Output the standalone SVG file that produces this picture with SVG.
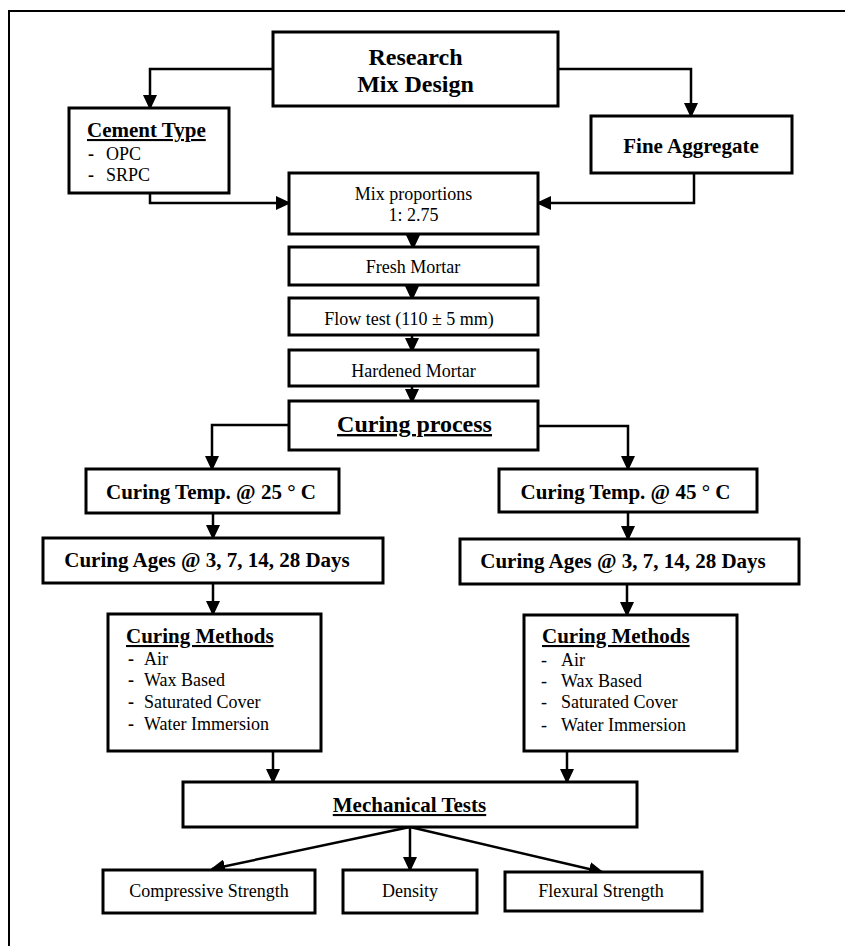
<svg xmlns="http://www.w3.org/2000/svg" width="845" height="946" viewBox="0 0 845 946">
<style>
.box{fill:#fff;stroke:#000;stroke-width:3}
.ln{fill:none;stroke:#000;stroke-width:2.5;marker-end:url(#ah)}
text{font-family:"Liberation Serif","Times New Roman",serif;fill:#000}
.r{font-size:18px}
.b{font-size:21px;font-weight:bold}
.bl{font-size:24px;font-weight:bold}
.u{text-decoration:underline}
.c{text-anchor:middle}
</style>
<defs>
<marker id="ah" markerUnits="userSpaceOnUse" markerWidth="15" markerHeight="15" refX="13" refY="7" orient="auto" viewBox="0 0 15 14">
<path d="M0,0 L15,7 L0,14 z" fill="#000"/>
</marker>
</defs>
<rect width="845" height="946" fill="#fff"/>
<g id="frame" stroke="#000" stroke-width="2" fill="none">
<path d="M9,946 V11 H845"/>
</g>
<g id="connectors">
<polyline class="ln" points="273,69 150,69 150,108"/>
<polyline class="ln" points="558,69 691,69 691,116"/>
<polyline class="ln" points="150,193 150,203 289,203"/>
<polyline class="ln" points="694,173 694,203 538,203"/>
<line class="ln" x1="413" y1="234" x2="413" y2="248"/>
<line class="ln" x1="412" y1="285" x2="412" y2="299"/>
<line class="ln" x1="412" y1="335" x2="412" y2="351"/>
<line class="ln" x1="412" y1="386" x2="412" y2="402"/>
<polyline class="ln" points="289,425 212,425 212,469"/>
<polyline class="ln" points="538,426 628,426 628,469"/>
<line class="ln" x1="213" y1="513" x2="213" y2="538"/>
<line class="ln" x1="628" y1="512" x2="628" y2="539"/>
<line class="ln" x1="213" y1="583" x2="213" y2="614"/>
<line class="ln" x1="627" y1="584" x2="627" y2="615"/>
<line class="ln" x1="273" y1="751" x2="273" y2="782"/>
<line class="ln" x1="567" y1="751" x2="567" y2="782"/>
<line class="ln" x1="410" y1="827" x2="212" y2="869"/>
<line class="ln" x1="410" y1="827" x2="410" y2="870"/>
<line class="ln" x1="410" y1="827" x2="602" y2="872"/>
</g>
<g id="research">
<rect class="box" x="273" y="32" width="285" height="74"/>
<text class="bl c" x="415.5" y="65">Research</text>
<text class="bl c" x="415.5" y="92">Mix Design</text>
</g>
<g id="cement">
<rect class="box" x="69" y="108" width="160" height="85"/>
<text class="b u" x="87" y="137">Cement Type</text>
<text class="r" x="88" y="160"><tspan font-weight="bold">-</tspan><tspan x="106">OPC</tspan></text>
<text class="r" x="88" y="181"><tspan font-weight="bold">-</tspan><tspan x="106">SRPC</tspan></text>
</g>
<g id="fine">
<rect class="box" x="591" y="116" width="201" height="57"/>
<text class="b c" x="691" y="153">Fine Aggregate</text>
</g>
<g id="mix">
<rect class="box" x="289" y="173" width="249" height="61"/>
<text class="r c" x="413.5" y="200">Mix proportions</text>
<text class="r c" x="413.5" y="221">1: 2.75</text>
</g>
<g id="fresh">
<rect class="box" x="289" y="247" width="249" height="38"/>
<text class="r c" x="413" y="273">Fresh Mortar</text>
</g>
<g id="flow">
<rect class="box" x="289" y="298" width="249" height="37"/>
<text class="r c" x="409" y="325">Flow test (110 ± 5 mm)</text>
</g>
<g id="hardened">
<rect class="box" x="289" y="350" width="249" height="36"/>
<text class="r c" x="413.5" y="377">Hardened Mortar</text>
</g>
<g id="curing">
<rect class="box" x="289" y="401" width="249" height="49"/>
<text class="bl c u" x="414.5" y="432">Curing process</text>
</g>
<g id="temp25">
<rect class="box" x="86" y="469" width="253" height="44"/>
<text class="b c" x="211" y="499">Curing Temp. @ 25 ° C</text>
</g>
<g id="temp45">
<rect class="box" x="499" y="469" width="258" height="43"/>
<text class="b c" x="625.5" y="499">Curing Temp. @ 45 ° C</text>
</g>
<g id="ages25">
<rect class="box" x="43" y="538" width="340" height="45"/>
<text class="b c" x="207" y="567">Curing Ages @ 3, 7, 14, 28 Days</text>
</g>
<g id="ages45">
<rect class="box" x="460" y="539" width="339" height="45"/>
<text class="b c" x="623" y="568">Curing Ages @ 3, 7, 14, 28 Days</text>
</g>
<g id="methods25">
<rect class="box" x="108" y="614" width="213" height="137"/>
<text class="b u" x="126" y="643">Curing Methods</text>
<text class="r" x="128" y="665"><tspan font-weight="bold">-</tspan><tspan x="144">Air</tspan></text>
<text class="r" x="128" y="686"><tspan font-weight="bold">-</tspan><tspan x="144">Wax Based</tspan></text>
<text class="r" x="128" y="708"><tspan font-weight="bold">-</tspan><tspan x="144">Saturated Cover</tspan></text>
<text class="r" x="128" y="730"><tspan font-weight="bold">-</tspan><tspan x="144">Water Immersion</tspan></text>
</g>
<g id="methods45">
<rect class="box" x="524" y="615" width="213" height="136"/>
<text class="b u" x="542" y="643">Curing Methods</text>
<text class="r" x="541" y="666">-<tspan x="561">Air</tspan></text>
<text class="r" x="541" y="687">-<tspan x="561">Wax Based</tspan></text>
<text class="r" x="541" y="708">-<tspan x="561">Saturated Cover</tspan></text>
<text class="r" x="541" y="731">-<tspan x="561">Water Immersion</tspan></text>
</g>
<g id="mechanical">
<rect class="box" x="183" y="782" width="454" height="45"/>
<text class="b c u" x="409.5" y="812">Mechanical Tests</text>
</g>
<g id="compressive">
<rect class="box" x="103" y="870" width="212" height="43"/>
<text class="r c" x="209" y="897">Compressive Strength</text>
</g>
<g id="density">
<rect class="box" x="343" y="870" width="134" height="43"/>
<text class="r c" x="410" y="897">Density</text>
</g>
<g id="flexural">
<rect class="box" x="505" y="872" width="197" height="39"/>
<text class="r c" x="601" y="897">Flexural Strength</text>
</g>
</svg>
